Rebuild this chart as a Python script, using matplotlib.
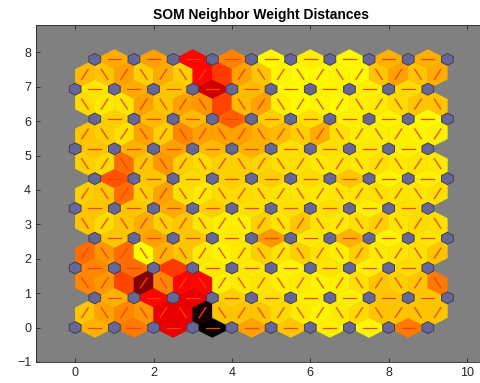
import numpy as np
import matplotlib
matplotlib.use("Agg")
import matplotlib.pyplot as plt
from matplotlib.patches import Polygon

# ---- data: neighbor weight distances (relative) ----
# horizontal neighbor edges, one list per neuron row (bottom to top)
horiz_dist = [
    [0.17, 0.28, 0.55, 1.00, 0.20, 0.13, 0.05, 0.04, 0.28],
    [0.17, 0.50, 0.55, 0.11, 0.08, 0.05, 0.05, 0.13, 0.13],
    [0.25, 0.30, 0.40, 0.06, 0.06, 0.04, 0.07, 0.05, 0.09],
    [0.13, 0.20, 0.13, 0.06, 0.22, 0.06, 0.17, 0.04, 0.07],
    [0.13, 0.13, 0.18, 0.11, 0.08, 0.08, 0.08, 0.05, 0.08],
    [0.35, 0.13, 0.09, 0.11, 0.11, 0.09, 0.13, 0.04, 0.05],
    [0.13, 0.17, 0.20, 0.15, 0.17, 0.08, 0.08, 0.06, 0.05],
    [0.11, 0.15, 0.15, 0.33, 0.11, 0.08, 0.05, 0.04, 0.03],
    [0.07, 0.18, 0.13, 0.60, 0.15, 0.03, 0.04, 0.05, 0.09],
    [0.18, 0.20, 0.50, 0.26, 0.03, 0.05, 0.03, 0.17, 0.17],
]
# diagonal neighbor edges between row j and row j+1 (left to right)
diag_dist = [
    [0.13, 0.20, 0.25, 0.22, 0.55, 0.55, 0.95, 0.13, 0.13, 0.13, 0.09, 0.06, 0.04, 0.06, 0.09, 0.13, 0.13, 0.13, 0.13],
    [0.25, 0.22, 0.38, 0.75, 0.25, 0.50, 0.50, 0.05, 0.06, 0.07, 0.05, 0.06, 0.04, 0.05, 0.08, 0.13, 0.11, 0.13, 0.28],
    [0.30, 0.22, 0.30, 0.02, 0.17, 0.13, 0.06, 0.04, 0.06, 0.11, 0.07, 0.11, 0.07, 0.05, 0.11, 0.06, 0.07, 0.08, 0.13],
    [0.13, 0.09, 0.13, 0.18, 0.11, 0.13, 0.07, 0.05, 0.05, 0.11, 0.07, 0.13, 0.07, 0.06, 0.08, 0.11, 0.07, 0.09, 0.08],
    [0.11, 0.13, 0.30, 0.11, 0.20, 0.08, 0.06, 0.09, 0.09, 0.08, 0.07, 0.07, 0.06, 0.07, 0.07, 0.08, 0.07, 0.07, 0.08],
    [0.11, 0.09, 0.30, 0.13, 0.22, 0.11, 0.09, 0.11, 0.11, 0.10, 0.08, 0.08, 0.06, 0.07, 0.06, 0.08, 0.06, 0.07, 0.06],
    [0.13, 0.11, 0.08, 0.20, 0.11, 0.25, 0.20, 0.20, 0.20, 0.17, 0.15, 0.11, 0.18, 0.08, 0.05, 0.05, 0.05, 0.04, 0.05],
    [0.09, 0.06, 0.07, 0.20, 0.13, 0.20, 0.22, 0.38, 0.15, 0.20, 0.05, 0.03, 0.04, 0.03, 0.05, 0.06, 0.09, 0.13, 0.13],
    [0.15, 0.13, 0.20, 0.11, 0.18, 0.11, 0.50, 0.40, 0.20, 0.13, 0.04, 0.03, 0.03, 0.04, 0.03, 0.13, 0.20, 0.13, 0.18],
]
grid_cols = 10
grid_rows = 10
title_text = "SOM Neighbor Weight Distances"
xticks = [0, 2, 4, 6, 8, 10]
yticks = [-1, 0, 1, 2, 3, 4, 5, 6, 7, 8]

# ---- geometry ----
h = np.sqrt(3) / 2
z = np.sqrt(0.75) / 3

def neuron_pos(i, j):
    return np.array([i + 0.5 * (j % 2), j * h])

edges = []  # (p1, p2, dist)
for j in range(grid_rows):
    for i in range(grid_cols - 1):
        edges.append((neuron_pos(i, j), neuron_pos(i + 1, j), horiz_dist[j][i]))
for j in range(grid_rows - 1):
    for k in range(2 * grid_cols - 1):
        mx = 0.25 + 0.5 * k
        my = (j + 0.5) * h
        if (j + k) % 2 == 0:
            d = np.array([0.25, h / 2])
        else:
            d = np.array([-0.25, h / 2])
        m = np.array([mx, my])
        edges.append((m - d, m + d, diag_dist[j][k]))

vals = np.array([e[2] for e in edges])
levels = (vals - vals.min()) / (vals.max() - vals.min())

fig = plt.figure(figsize=(4.81, 3.83), dpi=100)
plt.rcParams['font.family'] = ['Liberation Sans', 'DejaVu Sans']
ax = fig.add_axes([36 / 481, 21 / 383, 450.6 / 481, 337 / 383])
ax.set_facecolor((0.5, 0.5, 0.5))

for (p1, p2, _), lv in zip(edges, levels):
    level = 1 - lv
    col = (min(level * 2, 1), max(level * 2 - 1, 0), 0)
    u = p2 - p1
    u = u / np.linalg.norm(u)
    n = np.array([-u[1], u[0]])
    mid = (p1 + p2) / 2
    verts = [mid - 0.5 * u, mid + z * n, mid + 0.5 * u, mid - z * n]
    ax.add_patch(Polygon(verts, closed=True, facecolor=col, edgecolor=col, lw=0.3, zorder=1))
    a = (2 * p1 + p2) / 3
    b = (p1 + 2 * p2) / 3
    ax.plot([a[0], b[0]], [a[1], b[1]], '-', color=(1, 0.25, 0), lw=0.9, zorder=2)

shx = np.array([-1, 0, 1, 1, 0, -1]) * 0.5 * 0.3
shy = np.array([1, 2, 1, -1, -2, -1]) * z * 0.3
for j in range(grid_rows):
    for i in range(grid_cols):
        p = neuron_pos(i, j)
        ax.add_patch(Polygon(np.column_stack([p[0] + shx, p[1] + shy]), closed=True,
                             facecolor=(0.4, 0.4, 0.6), edgecolor=(0.25, 0.25, 0.3), lw=0.7, zorder=3))

ax.set_xlim(-1, 10.5)
ax.set_ylim(-1, 9 * h + 1)
ax.set_xticks(xticks)
ax.set_yticks(yticks)
ax.tick_params(direction='in', top=True, right=True, length=3, labelsize=9,
               colors=(0.15, 0.15, 0.15), width=0.6)
for s in ax.spines.values():
    s.set_color((0.15, 0.15, 0.15))
    s.set_linewidth(0.6)
ax.set_title(title_text, fontsize=10, fontweight='bold', pad=4)

fig.savefig("out.png", dpi=100)
